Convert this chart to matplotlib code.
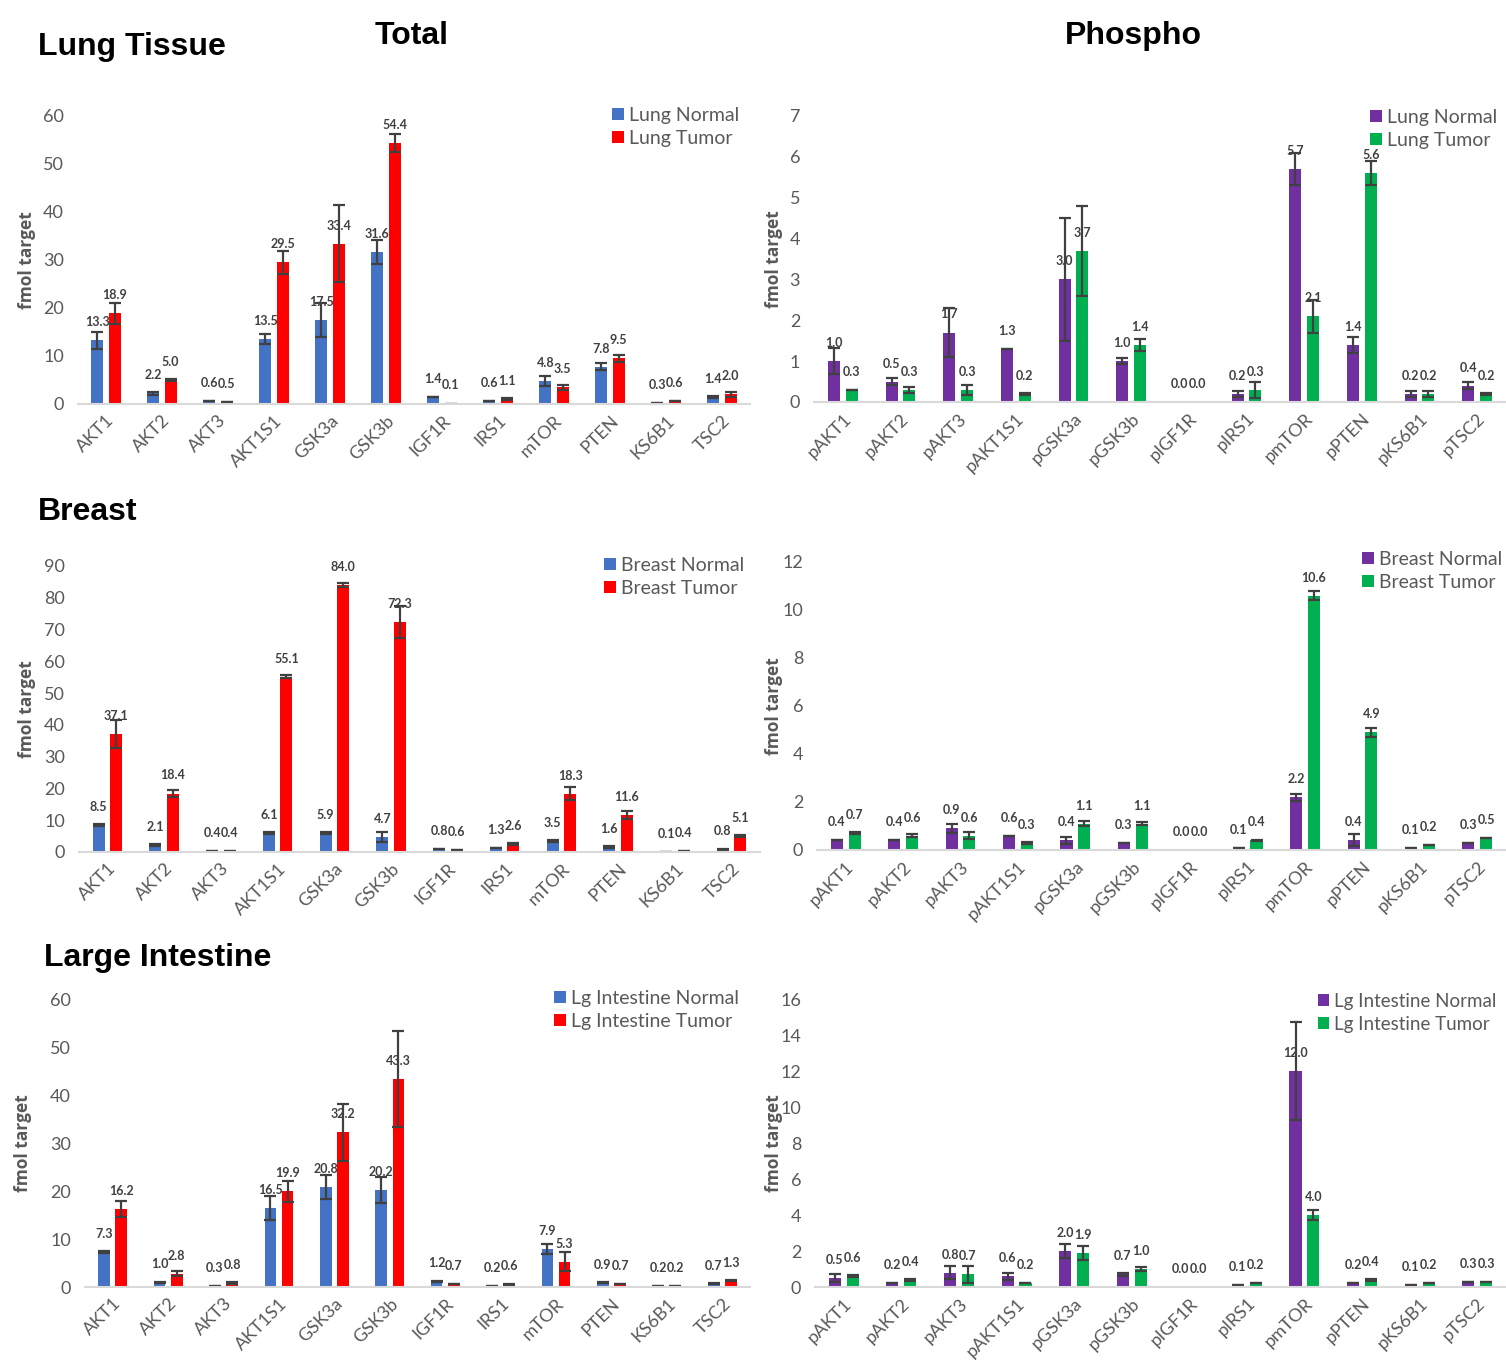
import matplotlib.pyplot as plt
import numpy as np

# ---- data ----------------------------------------------------------------
total_targets = ['AKT1', 'AKT2', 'AKT3', 'AKT1S1', 'GSK3a', 'GSK3b', 'IGF1R',
                 'IRS1', 'mTOR', 'PTEN', 'KS6B1', 'TSC2']
phospho_targets = ['pAKT1', 'pAKT2', 'pAKT3', 'pAKT1S1', 'pGSK3a', 'pGSK3b',
                   'pIGF1R', 'pIRS1', 'pmTOR', 'pPTEN', 'pKS6B1', 'pTSC2']

# Lung
lung_total_normal = [13.3, 2.2, 0.6, 13.5, 17.5, 31.6, 1.4, 0.6, 4.8, 7.8, 0.3, 1.4]
lung_total_tumor = [18.9, 5.0, 0.5, 29.5, 33.4, 54.4, 0.1, 1.1, 3.5, 9.5, 0.6, 2.0]
lung_total_normal_err = [1.8, 0.3, 0.0, 1.0, 3.5, 2.5, 0.0, 0.0, 1.0, 0.8, 0.0, 0.2]
lung_total_tumor_err = [2.2, 0.3, 0.0, 2.4, 8.0, 1.8, 0.0, 0.2, 0.5, 0.8, 0.0, 0.5]

lung_phos_normal = [1.0, 0.5, 1.7, 1.3, 3.0, 1.0, 0.0, 0.2, 5.7, 1.4, 0.2, 0.4]
lung_phos_tumor = [0.3, 0.3, 0.3, 0.2, 3.7, 1.4, 0.0, 0.3, 2.1, 5.6, 0.2, 0.2]
lung_phos_normal_err = [0.32, 0.08, 0.6, 0.0, 1.5, 0.08, 0.0, 0.07, 0.4, 0.2, 0.07, 0.08]
lung_phos_tumor_err = [0.0, 0.07, 0.12, 0.03, 1.1, 0.15, 0.0, 0.2, 0.4, 0.3, 0.08, 0.02]

# Breast
breast_total_normal = [8.5, 2.1, 0.4, 6.1, 5.9, 4.7, 0.8, 1.3, 3.5, 1.6, 0.1, 0.8]
breast_total_tumor = [37.1, 18.4, 0.4, 55.1, 84.0, 72.3, 0.6, 2.6, 18.3, 11.6, 0.4, 5.1]
breast_total_normal_err = [0.3, 0.3, 0.0, 0.3, 0.3, 1.5, 0.0, 0.0, 0.3, 0.2, 0.0, 0.2]
breast_total_tumor_err = [4.5, 1.2, 0.0, 0.5, 0.5, 5.0, 0.0, 0.3, 2.0, 1.2, 0.0, 0.3]

breast_phos_normal = [0.4, 0.4, 0.9, 0.6, 0.4, 0.3, 0.0, 0.1, 2.2, 0.4, 0.1, 0.3]
breast_phos_tumor = [0.7, 0.6, 0.6, 0.3, 1.1, 1.1, 0.0, 0.4, 10.6, 4.9, 0.2, 0.5]
breast_phos_normal_err = [0.0, 0.0, 0.2, 0.0, 0.15, 0.0, 0.0, 0.0, 0.15, 0.25, 0.0, 0.0]
breast_phos_tumor_err = [0.05, 0.05, 0.15, 0.05, 0.1, 0.05, 0.0, 0.03, 0.2, 0.2, 0.0, 0.0]

# Large intestine
lgi_total_normal = [7.3, 1.0, 0.3, 16.5, 20.8, 20.2, 1.2, 0.2, 7.9, 0.9, 0.2, 0.7]
lgi_total_tumor = [16.2, 2.8, 0.8, 19.9, 32.2, 43.3, 0.7, 0.6, 5.3, 0.7, 0.2, 1.3]
lgi_total_normal_err = [0.3, 0.1, 0.0, 2.5, 2.5, 2.7, 0.1, 0.0, 1.0, 0.1, 0.0, 0.1]
lgi_total_tumor_err = [1.7, 0.6, 0.2, 2.2, 6.0, 10.0, 0.0, 0.1, 1.9, 0.0, 0.0, 0.1]

lgi_phos_normal = [0.5, 0.2, 0.8, 0.6, 2.0, 0.7, 0.0, 0.1, 12.0, 0.2, 0.1, 0.3]
lgi_phos_tumor = [0.6, 0.4, 0.7, 0.2, 1.9, 1.0, 0.0, 0.2, 4.0, 0.4, 0.2, 0.3]
lgi_phos_normal_err = [0.2, 0.0, 0.35, 0.2, 0.4, 0.1, 0.0, 0.0, 2.7, 0.0, 0.0, 0.0]
lgi_phos_tumor_err = [0.05, 0.05, 0.45, 0.0, 0.4, 0.1, 0.0, 0.0, 0.3, 0.05, 0.0, 0.0]

# ---- style -----------------------------------------------------------------
BLUE, RED = '#4472C4', '#FF0000'
PURPLE, GREEN = '#7030A0', '#00B050'
GREY_TXT = '#595959'
ERR_COL = '#404040'
SOFT = ['Lato', 'DejaVu Sans']

W, H = 1506, 1369
fig = plt.figure(figsize=(W / 100, H / 100), dpi=100)
fig.patch.set_facecolor('white')


def panel(left, right, top, zero_y, ymax, ystep, labels, normal, tumor,
          nerr, terr, colors, names, legend_xy, ylab_x, leg_size=14):
    # axes placed in pixel coordinates of the reference picture
    ax = fig.add_axes([left / W, 1 - zero_y / H, (right - left) / W, (zero_y - top) / H])
    n = len(labels)
    step = (right - left) / 12.0
    x = np.arange(n)
    off, bw = 0.155, 0.21
    eb = dict(ecolor=ERR_COL, elinewidth=1.6, capsize=4, capthick=1.6)
    # no error mark on bars that are exactly zero
    nerr = [e if v > 0 else np.nan for v, e in zip(normal, nerr)]
    terr = [e if v > 0 else np.nan for v, e in zip(tumor, terr)]
    b1 = ax.bar(x - off, normal, bw, color=colors[0], yerr=nerr, error_kw=eb, label=names[0])
    b2 = ax.bar(x + off, tumor, bw, color=colors[1], yerr=terr, error_kw=eb, label=names[1])
    for bars, vals in ((b1, normal), (b2, tumor)):
        for rect, v in zip(bars, vals):
            ax.annotate(f'{v:.1f}', (rect.get_x() + rect.get_width() / 2, v),
                        xytext=(0, 13), textcoords='offset points', ha='center', va='center',
                        fontsize=9, fontweight='bold', color=ERR_COL, family=SOFT)
    ax.set_xlim(-0.5, -0.5 + (right - left) / step)
    ax.set_ylim(0, ymax)
    ax.set_yticks(np.arange(0, ymax + 0.01, ystep))
    ax.set_xticks(x)
    ax.set_xticklabels(labels, rotation=45, ha='right', rotation_mode='anchor',
                       fontsize=12.5, color=GREY_TXT, family=SOFT)
    ax.tick_params(axis='both', length=0, labelsize=13, labelcolor=GREY_TXT)
    ax.tick_params(axis='y', pad=10)
    ax.tick_params(axis='x', pad=6)
    for t in ax.get_yticklabels():
        t.set_family(SOFT)
    for s in ('top', 'right', 'left'):
        ax.spines[s].set_visible(False)
    ax.spines['bottom'].set_color('#D9D9D9')
    ax.spines['bottom'].set_linewidth(1.5)
    ax.set_ylabel('fmol target', fontsize=12.5, fontweight='bold', color=GREY_TXT,
                  family=['Open Sans', 'DejaVu Sans'])
    ax.yaxis.set_label_coords((ylab_x - left) / (right - left), 0.5)
    ax.legend(loc='upper left', bbox_to_anchor=(legend_xy[0] / W, 1 - legend_xy[1] / H),
              bbox_transform=fig.transFigure, frameon=False,
              handlelength=0.6, handleheight=0.6, handletextpad=0.25,
              labelspacing=0.3, borderpad=0, borderaxespad=0,
              labelcolor=GREY_TXT, prop={'family': SOFT, 'size': leg_size})
    return ax


# Lung tissue
panel(78, 750, 116, 404, 60, 10, total_targets, lung_total_normal, lung_total_tumor,
      lung_total_normal_err, lung_total_tumor_err, (BLUE, RED),
      ('Lung Normal', 'Lung Tumor'), (612, 107), 36)
panel(814, 1506, 116, 402, 7, 1, phospho_targets, lung_phos_normal, lung_phos_tumor,
      lung_phos_normal_err, lung_phos_tumor_err, (PURPLE, GREEN),
      ('Lung Normal', 'Lung Tumor'), (1370, 109), 783)

# Breast
panel(79, 760, 566, 852, 90, 10, total_targets, breast_total_normal, breast_total_tumor,
      breast_total_normal_err, breast_total_tumor_err, (BLUE, RED),
      ('Breast Normal', 'Breast Tumor'), (604, 557), 36)
panel(817, 1506, 562, 850, 12, 2, phospho_targets, breast_phos_normal, breast_phos_tumor,
      breast_phos_normal_err, breast_phos_tumor_err, (PURPLE, GREEN),
      ('Breast Normal', 'Breast Tumor'), (1362, 551), 783)

# Large intestine
panel(85, 750, 999, 1287, 60, 10, total_targets, lgi_total_normal, lgi_total_tumor,
      lgi_total_normal_err, lgi_total_tumor_err, (BLUE, RED),
      ('Lg Intestine Normal', 'Lg Intestine Tumor'), (554, 990), 32)
panel(815, 1506, 999, 1287, 16, 2, phospho_targets, lgi_phos_normal, lgi_phos_tumor,
      lgi_phos_normal_err, lgi_phos_tumor_err, (PURPLE, GREEN),
      ('Lg Intestine Normal', 'Lg Intestine Tumor'), (1318, 993), 783, leg_size=13.5)

# headings
head = dict(fontweight='bold', color='black', family=['Liberation Sans', 'DejaVu Sans'])
fig.text(38 / W, 1 - 47 / H, 'Lung Tissue', fontsize=23, va='center', ha='left', **head)
fig.text(412 / W, 1 - 36 / H, 'Total', fontsize=23, va='center', ha='center', **head)
fig.text(1133 / W, 1 - 36 / H, 'Phospho', fontsize=23, va='center', ha='center', **head)
fig.text(38 / W, 1 - 512 / H, 'Breast', fontsize=23, va='center', ha='left', **head)
fig.text(44 / W, 1 - 958 / H, 'Large Intestine', fontsize=23, va='center', ha='left', **head)

fig.savefig('out.png', dpi=100)
